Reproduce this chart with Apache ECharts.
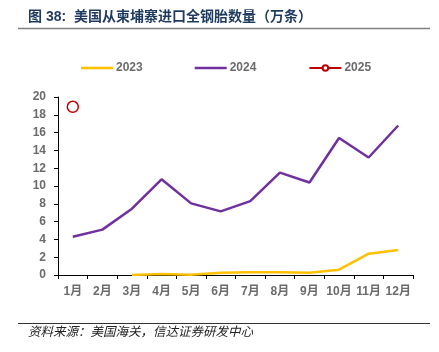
<!DOCTYPE html>
<html>
<head>
<meta charset="utf-8">
<script src="https://cdn.jsdelivr.net/npm/echarts@6/dist/echarts.min.js"></script>
<style>
  html, body { margin: 0; padding: 0; background: #fff; }
  #main { width: 439px; height: 352px; }
</style>
</head>
<body>
<div id="main"></div>
<script>
// 月份
const months = ['1月', '2月', '3月', '4月', '5月', '6月', '7月', '8月', '9月', '10月', '11月', '12月']
// 万条
const data2023 = [null, null, 0, 0.1, 0.02, 0.25, 0.3, 0.3, 0.25, 0.6, 2.4, 2.8]
const data2024 = [4.3, 5.1, 7.45, 10.75, 8.05, 7.15, 8.3, 11.5, 10.4, 15.4, 13.2, 16.8]
const data2025 = [18.9, null, null, null, null, null, null, null, null, null, null, null]

const labelColor = '#6b6b6b'
const lineIcon = 'path://M0,0 H32 V2.6 H0 Z'
const chart = echarts.init(document.getElementById('main'))

const option = {
  animation: false,
  textStyle: { fontFamily: 'Liberation Sans, Arial, Noto Sans CJK SC, sans-serif' },
  graphic: [
    {
      type: 'text',
      left: 28,
      top: 10,
      style: {
        text: '图 38:  美国从柬埔寨进口全钢胎数量（万条）',
        fill: '#1f3a5f',
        font: 'bold 14px "Liberation Sans", "Noto Sans CJK SC", sans-serif'
      }
    },
    {
      type: 'line',
      shape: { x1: 18, y1: 28.5, x2: 430, y2: 28.5 },
      style: { stroke: '#808080', lineWidth: 1.5 }
    },
    {
      type: 'line',
      shape: { x1: 18, y1: 323.5, x2: 430, y2: 323.5 },
      style: { stroke: '#333', lineWidth: 1 }
    },
    {
      type: 'text',
      left: 28,
      top: 325,
      style: {
        text: '资料来源：美国海关，信达证券研发中心',
        fill: '#222',
        font: 'italic 12.5px "Noto Sans CJK SC", sans-serif'
      }
    }
  ],
  legend: {
    top: 57,
    left: 76,
    itemWidth: 32,
    itemHeight: 7,
    itemGap: 52,
    textStyle: { color: labelColor, fontSize: 12, fontWeight: 'bold', padding: [0, 0, 0, -2] },
    data: [
      { name: '2023', icon: lineIcon },
      { name: '2024', icon: lineIcon },
      { name: '2025' }
    ]
  },
  grid: { left: 58, right: 26, top: 97, bottom: 77 },
  xAxis: {
    type: 'category',
    data: months,
    boundaryGap: true,
    axisLine: { lineStyle: { color: '#000', width: 1 } },
    axisTick: { show: true, length: 4, lineStyle: { color: '#000' } },
    axisLabel: { color: labelColor, fontSize: 12, fontWeight: 'bold', margin: 11, interval: 0 }
  },
  yAxis: {
    type: 'value',
    min: 0,
    max: 20,
    interval: 2,
    splitLine: { show: false },
    axisLine: { show: true, lineStyle: { color: '#000', width: 1 } },
    axisTick: { show: true, length: 4, lineStyle: { color: '#000' } },
    axisLabel: { color: labelColor, fontSize: 12, fontWeight: 'bold', margin: 12 }
  },
  series: [
    {
      name: '2023',
      type: 'line',
      symbol: 'none',
      lineStyle: { color: '#ffc000', width: 2.5 },
      itemStyle: { color: '#ffc000' },
      data: data2023
    },
    {
      name: '2024',
      type: 'line',
      symbol: 'none',
      lineStyle: { color: '#7030a0', width: 2.5 },
      itemStyle: { color: '#7030a0' },
      data: data2024
    },
    {
      name: '2025',
      type: 'line',
      symbol: 'circle',
      symbolSize: 11,
      showSymbol: true,
      lineStyle: { color: '#c00000', width: 2.5 },
      itemStyle: { color: '#fff', borderColor: '#c00000', borderWidth: 1.5 },
      data: data2025
    }
  ]
}
option && chart.setOption(option)
</script>
</body>
</html>
